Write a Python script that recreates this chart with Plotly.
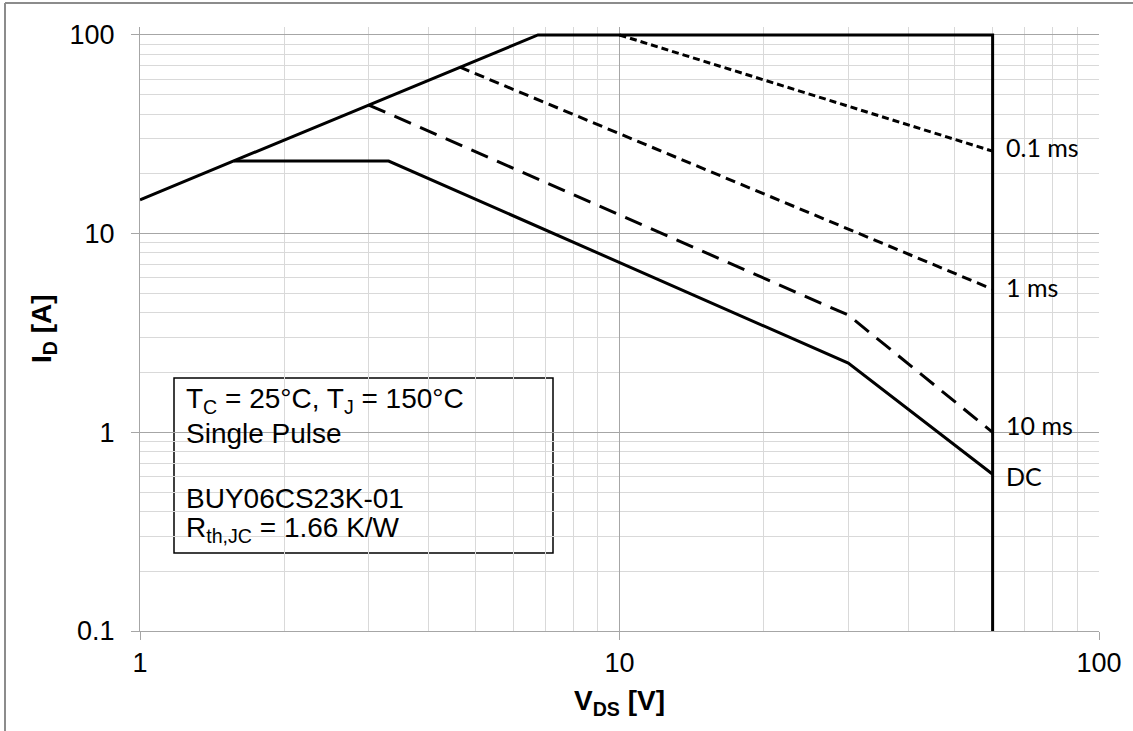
import math
import plotly.graph_objects as go

# Safe operating area, BUY06CS23K-01 (I_D vs V_DS, log-log)
outer_v = [1, 6.76, 60, 60]
outer_i = [14.8, 100, 100, 0.1]

dc_v = [1.57, 3.3, 30, 60]
dc_i = [23.2, 23.2, 2.23, 0.615]

ms10_v = [3, 30, 60]
ms10_i = [44.4, 3.89, 1.0]

ms1_v = [4.65, 60]
ms1_i = [68.8, 5.25]

ms01_v = [10, 60]
ms01_i = [100, 26.0]

x_ticks = [1, 10, 100]
x_tick_text = ["1", "10", "100"]
y_ticks = [0.1, 1, 10, 100]
y_tick_text = ["0.1", "1", "10", "100"]
x_minor = [m * d for d in (1, 10) for m in range(2, 10)]
y_minor = [m * d for d in (0.1, 1, 10) for m in range(2, 10)]

curve_labels = ["0.1 ms", "1 ms", "10 ms", "DC"]

W, H = 1133, 731
L, R, T, B = 140, 34, 27, 100
PW, PH = W - L - R, H - T - B


def px(xp):
    return (xp - L) / PW


def py(yp):
    return (H - B - yp) / PH


fig = go.Figure()

line_style = dict(color="black", width=3)
fig.add_trace(go.Scatter(x=outer_v, y=outer_i, mode="lines", line=line_style, name="limit"))
fig.add_trace(go.Scatter(x=dc_v, y=dc_i, mode="lines", line=line_style, name="DC"))
fig.add_trace(go.Scatter(x=ms10_v, y=ms10_i, mode="lines",
                         line=dict(color="black", width=3, dash="18px,10px"), name="10 ms"))
fig.add_trace(go.Scatter(x=ms1_v, y=ms1_i, mode="lines",
                         line=dict(color="black", width=3, dash="10px,6px"), name="1 ms"))
fig.add_trace(go.Scatter(x=ms01_v, y=ms01_i, mode="lines",
                         line=dict(color="black", width=3, dash="7px,4px"), name="0.1 ms"))

# curve labels at the right-hand end of each curve (log axes take log10 positions)
label_font = dict(family="Lato, Open Sans, sans-serif", size=25, color="black")
ends = [(ms01_v[-1], ms01_i[-1], 4), (ms1_v[-1], ms1_i[-1], 2),
        (ms10_v[-1], ms10_i[-1], 7), (dc_v[-1], dc_i[-1], -2)]
for text, (xv, yv, ys) in zip(curve_labels, ends):
    fig.add_annotation(x=math.log10(xv), y=math.log10(yv), xref="x", yref="y",
                       text=text, showarrow=False, xanchor="left", yanchor="middle",
                       xshift=11, yshift=ys, font=label_font)

# info box
fig.add_shape(type="rect", xref="paper", yref="paper",
              x0=px(174), x1=px(553), y0=py(553), y1=py(378),
              fillcolor="white", line=dict(color="black", width=1.5), layer="between")
box_font = dict(family="Liberation Sans, Arial, sans-serif", size=28, color="black")
box_lines = [
    ("T<sub>C</sub> = 25°C, T<sub>J</sub> = 150°C", 401),
    ("Single Pulse", 433),
    ("BUY06CS23K-01", 498),
    ("R<sub>th,JC</sub> = 1.66 K/W", 529),
]
for text, yc in box_lines:
    fig.add_annotation(x=px(184), y=py(yc), xref="paper", yref="paper", text=text,
                       showarrow=False, xanchor="left", yanchor="middle", font=box_font)

# axis titles
title_font = dict(family="Liberation Sans, Arial, sans-serif", size=28, color="black")
fig.add_annotation(x=px(43), y=py(329), xref="paper", yref="paper",
                   text="<b>I<sub>D</sub> [A]</b>", textangle=-90, showarrow=False,
                   xanchor="center", yanchor="middle", font=title_font)
fig.add_annotation(x=px(619), y=py(702), xref="paper", yref="paper",
                   text="<b>V<sub>DS</sub> [V]</b>", showarrow=False,
                   xanchor="center", yanchor="middle", font=title_font)

# outer frame (top and left edges)
frame = dict(color="#8c8c8c", width=2)
fig.add_shape(type="line", xref="paper", yref="paper", x0=px(5), x1=px(1140),
              y0=py(3), y1=py(3), line=frame, layer="above")
fig.add_shape(type="line", xref="paper", yref="paper", x0=px(5), x1=px(5),
              y0=py(3), y1=py(740), line=frame, layer="above")

tick_font = dict(family="Liberation Sans, Arial, sans-serif", size=27, color="black")
major_grid = "#a6a6a6"
minor_grid = "#d9d9d9"

fig.update_xaxes(type="log", range=[0, 2], tickmode="array", tickvals=x_ticks,
                 ticktext=x_tick_text, ticks="outside", ticklen=8, tickcolor=major_grid,
                 showline=True, linecolor=major_grid, linewidth=1, mirror=False,
                 showgrid=True, gridcolor=major_grid, gridwidth=1, zeroline=False,
                 tickfont=tick_font,
                 minor=dict(tickmode="array", tickvals=x_minor, showgrid=True,
                            gridcolor=minor_grid, gridwidth=1, ticks=""))
fig.update_yaxes(type="log", range=[-1, 2.04], tickmode="array", tickvals=y_ticks,
                 ticktext=y_tick_text, ticks="outside", ticklen=8, tickcolor=major_grid,
                 showline=True, linecolor=major_grid, linewidth=1, mirror=False,
                 showgrid=True, gridcolor=major_grid, gridwidth=1, zeroline=False,
                 tickfont=tick_font, ticklabelstandoff=11,
                 minor=dict(tickmode="array", tickvals=y_minor, showgrid=True,
                            gridcolor=minor_grid, gridwidth=1, ticks=""))

fig.update_layout(width=W, height=H, autosize=False,
                  margin=dict(l=L, r=R, t=T, b=B, pad=0),
                  paper_bgcolor="white", plot_bgcolor="white", showlegend=False)

fig.write_html("out.html")
